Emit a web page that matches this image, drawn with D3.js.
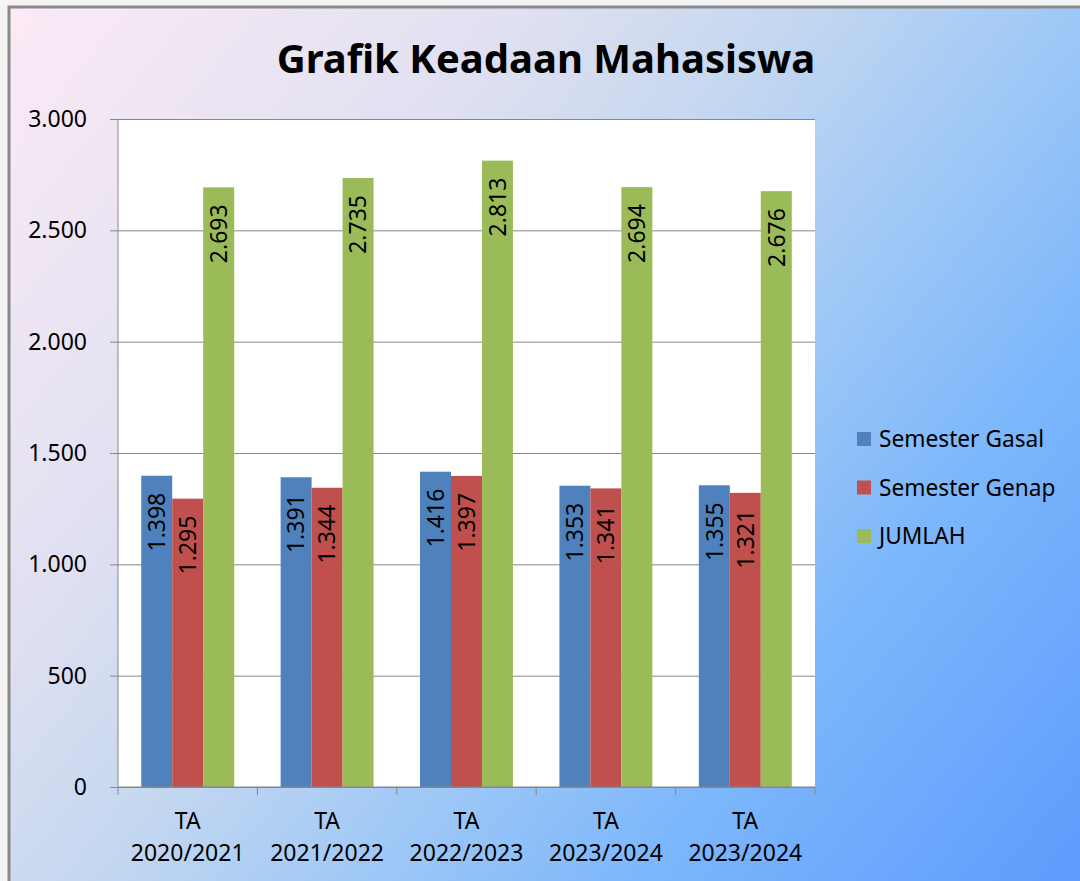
<!DOCTYPE html>
<html>
<head>
<meta charset="utf-8">
<script src="https://cdn.jsdelivr.net/npm/d3@7"></script>
<style>
body { margin: 0; background: #f4f4f4; }
svg { display: block; font-family: "Noto Sans", "Open Sans", sans-serif; }
</style>
</head>
<body>
<svg width="1080" height="881"></svg>
<script>
var categories = ["TA|2020/2021", "TA|2021/2022", "TA|2022/2023", "TA|2023/2024", "TA|2023/2024"];
var seriesNames = ["Semester Gasal", "Semester Genap", "JUMLAH"];
var gasal = [1398, 1391, 1416, 1353, 1355];
var genap = [1295, 1344, 1397, 1341, 1321];
var jumlah = [2693, 2735, 2813, 2694, 2676];
var yTicks = [0, 500, 1000, 1500, 2000, 2500, 3000];
var colors = ["#4f81bd", "#c0504d", "#9bbb59"];

var values = [gasal, genap, jumlah];
var svg = d3.select("svg");
var fmt = d3.formatLocale({decimal: ",", thousands: ".", grouping: [3], currency: ["", ""]}).format(",d");

// background gradient
var grad = svg.append("defs").append("linearGradient")
	.attr("id", "bg")
	.attr("gradientUnits", "userSpaceOnUse")
	.attr("x1", 0).attr("y1", 0).attr("x2", 1080).attr("y2", 881);
[[0, "#fdeaf6"], [0.3, "#dfe0f1"], [0.45, "#c4d7f0"], [0.6, "#9fc8f6"], [0.75, "#7db7fb"], [1, "#5d9bfd"]].forEach(function (s) {
	grad.append("stop").attr("offset", s[0]).attr("stop-color", s[1]);
});

svg.append("rect")
	.attr("x", 9).attr("y", 7)
	.attr("width", 1090).attr("height", 890)
	.attr("fill", "url(#bg)")
	.attr("stroke", "#898989")
	.attr("stroke-width", 3);

var plotL = 118, plotR = 815, plotT = 119, plotB = 787;

var x0 = d3.scaleBand().domain(d3.range(categories.length)).range([plotL, plotR]);
var x1 = d3.scaleBand().domain(d3.range(seriesNames.length)).range([0, x0.bandwidth()]).paddingOuter(0.75);
var y = d3.scaleLinear().domain([0, 3000]).range([plotB, plotT]);

// plot area
svg.append("rect")
	.attr("x", plotL).attr("y", plotT)
	.attr("width", plotR - plotL).attr("height", plotB - plotT)
	.attr("fill", "#fff");

// gridlines + y axis
var yAxis = svg.append("g")
	.attr("transform", "translate(" + plotL + ",0)")
	.call(d3.axisLeft(y).tickValues(yTicks).tickFormat(fmt).tickSize(-(plotR - plotL)).tickPadding(31));
yAxis.select(".domain").remove();
yAxis.selectAll(".tick line").attr("stroke", "#878787").attr("x1", -8);
yAxis.selectAll(".tick text")
	.attr("fill", "#000")
	.style("font-size", "23px")
	.style("font-family", "Noto Sans");

svg.append("line")
	.attr("x1", plotL).attr("x2", plotL)
	.attr("y1", plotT).attr("y2", plotB)
	.attr("stroke", "#878787");

// bars
var groups = svg.selectAll("g.cat")
	.data(d3.range(categories.length))
	.enter()
	.append("g")
	.attr("class", "cat")
	.attr("transform", function (i) { return "translate(" + x0(i) + ",0)"; });

groups.selectAll("rect")
	.data(function (i) { return values.map(function (v, s) { return {s: s, v: v[i]}; }); })
	.enter()
	.append("rect")
	.attr("x", function (d) { return x1(d.s); })
	.attr("width", x1.bandwidth())
	.attr("y", function (d) { return y(d.v); })
	.attr("height", function (d) { return plotB - y(d.v); })
	.attr("fill", function (d) { return colors[d.s]; });

groups.selectAll("text.val")
	.data(function (i) { return values.map(function (v, s) { return {s: s, v: v[i]}; }); })
	.enter()
	.append("text")
	.attr("class", "val")
	.attr("text-anchor", "end")
	.attr("dy", "0.36em")
	.style("font-size", "23px")
	.attr("transform", function (d) {
		return "translate(" + (x1(d.s) + x1.bandwidth() / 2) + "," + (y(d.v) + 17) + ") rotate(-90)";
	})
	.text(function (d) { return fmt(d.v); });

// x axis
svg.append("line")
	.attr("x1", plotL).attr("x2", plotR)
	.attr("y1", plotB).attr("y2", plotB)
	.attr("stroke", "#878787");

var bounds = d3.range(categories.length + 1).map(function (i) { return plotL + i * x0.step(); });
svg.selectAll("line.xtick")
	.data(bounds)
	.enter()
	.append("line")
	.attr("class", "xtick")
	.attr("x1", function (d) { return d; }).attr("x2", function (d) { return d; })
	.attr("y1", plotB).attr("y2", plotB + 8)
	.attr("stroke", "#878787");

var xl = svg.selectAll("text.xl")
	.data(categories)
	.enter()
	.append("text")
	.attr("class", "xl")
	.attr("text-anchor", "middle")
	.style("font-size", "23px")
	.attr("x", function (d, i) { return x0(i) + x0.bandwidth() / 2; });
xl.selectAll("tspan")
	.data(function (d) { return d.split("|"); })
	.enter()
	.append("tspan")
	.attr("x", function () { return this.parentNode.getAttribute("x"); })
	.attr("y", function (d, i) { return 829 + i * 32; })
	.text(function (d) { return d; });

// title
svg.append("text")
	.attr("x", 546).attr("y", 73)
	.attr("text-anchor", "middle")
	.style("font-size", "40px")
	.style("font-weight", "bold")
	.text("Grafik Keadaan Mahasiswa");

// legend
var legend = svg.selectAll("g.leg")
	.data(seriesNames)
	.enter()
	.append("g")
	.attr("class", "leg")
	.attr("transform", function (d, i) { return "translate(857," + (432 + i * 48.5) + ")"; });
legend.append("rect")
	.attr("width", 14).attr("height", 14)
	.attr("fill", function (d, i) { return colors[i]; });
legend.append("text")
	.attr("x", 22).attr("y", 15)
	.style("font-size", "22.7px")
	.text(function (d) { return d; });
</script>
</body>
</html>
